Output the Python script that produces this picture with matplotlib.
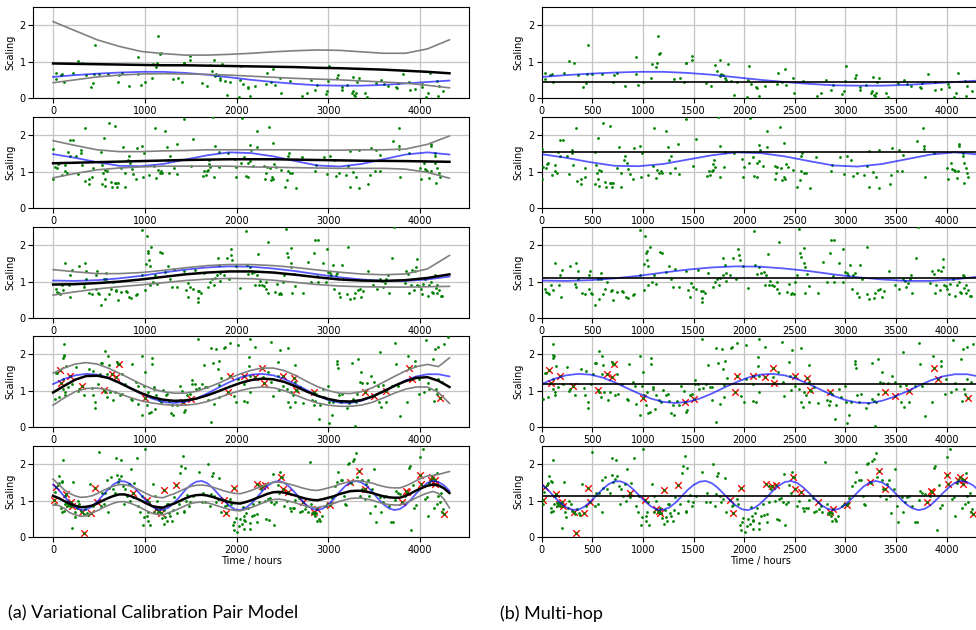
import numpy as np
import matplotlib.pyplot as plt

# sample positions (hours) for the smooth curves
t_slow = np.arange(0, 4321, 240)
t_mid = np.arange(0, 4321, 120)
t_fast = np.arange(0, 4321, 60)

# ---- panel 1 ----
p1_pts = [(33,0.68),(33,0.53),(83,0.62),(99,0.65),(115,0.45),(221,0.68),(267,1.02),(320,0.95),(356,0.64),(412,0.30),
          (439,0.42),(455,1.45),(445,0.65),(498,0.66),(597,0.65),(716,0.64),(706,0.43),(746,0.69),(822,0.32),(927,1.12),
          (927,0.66),(954,0.35),(1003,0.44),(1076,0.55),(1086,0.94),(1125,0.86),(1135,0.95),(1148,1.71),(1162,1.20),(1171,1.25),
          (1303,0.53),(1363,0.56),(1409,0.45),(1422,0.97),(1426,0.95),(1488,1.16),(1488,1.05),(1620,0.41),(1676,0.34),(1709,0.91),
          (1736,0.75),(1759,1.05),(1762,0.61),(1772,0.67),(1795,0.64),(1815,0.56),(1821,0.49),(1838,0.94),(1874,0.48),(1900,0.07),
          (1930,0.44),(2023,0.03),(2039,0.49),(2052,0.88),(2072,0.38),(2119,0.29),(2128,0.27),(2151,0.05),(2201,0.32),(2320,0.38),
          (2336,0.69),(2373,0.43),(2399,0.79),(2415,0.36),(2478,0.56),(2488,0.14),(2577,0.47),(2716,0.05),(2762,0.15),(2808,0.50),
          (2854,0.22),(2877,0.36),(2970,0.11),(2990,0.18),(2996,0.47),(3006,0.89),(3099,0.55),(3109,0.62),(3145,0.22),(3148,0.29),
          (3198,0.36),(3257,0.13),(3264,0.20),(3270,0.57),(3280,0.09),(3290,0.05),(3297,0.13),(3310,0.45),(3330,0.55),(3402,0.15),
          (3425,0.04),(3515,0.41),(3577,0.50),(3610,0.39),(3650,0.33),(3739,0.30),(3749,0.28),(3758,0.40),(3811,0.67),(3884,0.45),
          (3887,0.22),(3943,0.24),(4016,0.38),(4026,0.30),(4069,0.03),(4089,0.15),(4108,0.69),(4184,0.47),(4194,0.05),(4204,0.34),
          (4254,0.20)]
p1_true = [0.58,0.63,0.67,0.70,0.72,0.72,0.69,0.64,0.57,0.50,0.44,0.39,0.35,0.34,0.34,0.36,0.40,0.44,0.48]
p1_mean = [0.95,0.94,0.93,0.92,0.91,0.90,0.90,0.89,0.88,0.87,0.86,0.85,0.83,0.82,0.80,0.78,0.75,0.72,0.68]
p1_upper = [2.10,1.85,1.60,1.42,1.28,1.22,1.18,1.18,1.20,1.23,1.27,1.30,1.32,1.31,1.27,1.23,1.23,1.35,1.60]
p1_lower = [0.42,0.50,0.58,0.63,0.66,0.67,0.66,0.65,0.63,0.60,0.57,0.54,0.52,0.50,0.47,0.44,0.41,0.35,0.28]
p1_const = 0.45

# ---- panel 2 ----
p2_pts = [(3,1.62),(3,0.81),(16,1.13),(43,1.10),(56,1.22),(63,1.24),(99,0.90),(132,1.19),(135,1.03),(155,0.96),
          (165,1.55),(185,1.88),(185,1.42),(214,1.86),(251,1.44),(267,0.93),(300,1.50),(304,1.60),(314,1.19),(343,2.20),
          (350,0.75),(386,0.79),(389,0.65),(426,0.85),(432,1.11),(525,1.53),(528,0.67),(538,1.18),(545,0.96),(558,1.92),
          (561,0.81),(568,1.05),(571,0.60),(584,1.03),(610,2.34),(630,0.72),(640,0.59),(673,2.26),(670,0.69),(686,0.70),
          (696,0.58),(706,0.68),(742,1.10),(762,1.69),(782,0.97),(785,0.59),(815,1.33),(825,1.44),(838,1.23),(855,1.08),
          (871,0.94),(901,0.81),(914,1.66),(967,1.71),(977,0.85),(993,1.51),(1049,0.90),(1096,1.15),(1109,2.20),(1125,0.82),
          (1142,1.05),(1162,0.97),(1175,1.01),(1185,0.96),(1224,2.11),(1244,1.68),(1257,1.32),(1264,0.95),(1274,1.44),(1317,1.11),
          (1346,1.77),(1353,0.94),(1429,2.45),(1498,1.15),(1528,1.90),(1630,0.89),(1650,1.01),(1666,0.90),(1680,1.01),(1690,1.04),
          (1696,1.21),(1699,1.33),(1709,1.13),(1746,2.49),(1759,0.85),(1765,1.70),(1805,1.14),(1812,1.53),(1901,1.50),(1983,1.35),
          (1993,0.85),(1996,1.14),(2043,1.23),(2056,2.48),(2086,1.41),(2099,0.88),(2122,0.86),(2128,1.24),(2142,1.29),(2151,1.72),
          (2155,1.60),(2181,1.15),(2221,2.13),(2227,1.68),(2300,1.15),(2307,0.81),(2317,0.97),(2327,1.14),(2350,2.22),(2360,1.10),
          (2370,0.77),(2389,0.85),(2393,1.79),(2399,0.79),(2409,1.20),(2429,1.12),(2485,1.05),(2525,0.59),(2551,0.77),(2558,1.01),
          (2564,1.42),(2574,1.51),(2587,0.95),(2607,0.97),(2650,0.54),(2709,1.41),(2854,1.03),(2867,1.17),(2950,1.41),(2990,0.94),
          (3019,1.44),(3059,1.32),(3079,0.89),(3112,0.95),(3188,0.90),(3211,1.15),(3231,0.58),(3237,1.56),(3270,0.99),(3300,0.85),
          (3330,0.55),(3330,1.59),(3435,0.67),(3449,0.90),(3462,1.66),(3508,1.01),(3524,1.59),(3561,1.01),(3567,1.46),(3706,1.84),
          (3765,2.21),(3772,1.71),(3781,0.85),(3772,1.62),(3877,1.50),(4003,1.10),(4009,0.79),(4042,1.23),(4055,1.08),(4069,1.04),
          (4079,1.01),(4102,0.83),(4115,1.01),(4118,1.76),(4118,1.71),(4161,1.44),(4168,1.24),(4174,0.70),(4188,1.10),(4204,0.95),
          (4214,0.86),(4161,1.51)]
p2_true = [1.48,1.38,1.26,1.16,1.15,1.21,1.33,1.45,1.53,1.51,1.42,1.29,1.17,1.14,1.21,1.34,1.47,1.53,1.47]
p2_mean = [1.23,1.245,1.26,1.275,1.29,1.305,1.32,1.33,1.34,1.34,1.34,1.33,1.32,1.31,1.30,1.295,1.29,1.28,1.27]
p2_upper = [1.85,1.72,1.60,1.55,1.55,1.57,1.58,1.60,1.60,1.60,1.60,1.60,1.59,1.59,1.60,1.60,1.62,1.75,1.98]
p2_lower = [0.83,0.95,1.05,1.10,1.13,1.15,1.15,1.15,1.15,1.13,1.12,1.11,1.10,1.09,1.09,1.09,1.07,0.98,0.82]
p2_const = 1.55

# ---- panel 3 ----
p3_pts = [(36,0.81),(43,0.72),(59,0.68),(76,0.65),(96,0.92),(109,0.77),(135,1.50),(185,1.19),(188,0.58),(205,1.31),
          (284,1.44),(333,0.94),(337,0.85),(343,1.50),(356,1.08),(363,1.28),(396,0.70),(429,0.65),(465,0.79),(472,1.19),
          (475,1.29),(485,0.69),(501,0.66),(525,0.36),(558,1.06),(568,0.51),(581,1.23),(581,1.06),(604,0.65),(630,0.79),
          (650,0.99),(683,0.74),(690,0.77),(706,0.49),(742,0.72),(795,0.74),(808,0.72),(828,0.58),(848,0.56),(901,0.63),
          (914,0.67),(967,1.17),(974,2.43),(1007,0.77),(1013,1.49),(1023,2.26),(1033,1.80),(1036,1.85),(1043,1.60),(1053,1.44),
          (1066,1.95),(1053,0.92),(1086,0.99),(1106,1.19),(1132,0.94),(1165,1.82),(1191,1.78),(1224,1.26),(1257,1.44),(1277,1.06),
          (1297,0.86),(1317,1.35),(1353,0.86),(1429,1.30),(1449,0.77),(1465,0.59),(1475,0.97),(1495,0.85),(1528,0.81),(1548,1.32),
          (1577,0.74),(1581,0.45),(1584,0.56),(1594,0.75),(1614,0.69),(1647,1.24),(1690,0.85),(1713,0.99),(1732,1.06),(1749,0.90),
          (1762,1.10),(1789,1.17),(1792,1.65),(1808,1.46),(1818,1.01),(1822,1.24),(1861,1.17),(1894,1.64),(1917,1.06),(1934,1.91),
          (1944,1.73),(1954,1.60),(1990,1.44),(2033,0.83),(2099,2.38),(2109,1.46),(2125,1.22),(2145,1.39),(2168,1.24),(2191,1.26),
          (2204,0.92),(2217,1.17),(2234,1.75),(2240,0.90),(2257,1.02),(2276,0.90),(2296,0.88),(2319,0.99),(2323,0.81),(2346,2.09),
          (2339,0.70),(2422,0.72),(2442,0.94),(2462,0.65),(2475,0.69),(2488,0.65),(2502,0.99),(2518,1.19),(2541,2.45),(2551,1.80),
          (2558,1.68),(2594,1.93),(2591,1.51),(2597,1.40),(2604,0.68),(2624,1.22),(2640,0.88),(2729,0.68),(2782,1.55),(2815,0.99),
          (2848,1.80),(2858,2.14),(2881,1.15),(2888,0.99),(2891,2.14),(2937,1.50),(2973,0.99),(2980,1.89),(2999,1.26),(3013,1.24),
          (3029,1.17),(3046,1.46),(3066,0.79),(3079,1.17),(3092,1.24),(3112,0.68),(3129,0.59),(3145,1.46),(3165,1.08),(3214,1.95),
          (3208,0.66),(3237,0.52),(3277,0.56),(3293,0.70),(3320,0.77),(3343,0.81),(3359,0.59),(3376,0.74),(3429,1.30),(3485,0.90),
          (3528,0.79),(3567,1.06),(3587,1.01),(3600,0.86),(3620,0.97),(3633,1.08),(3646,1.17),(3659,0.70),(3699,1.64),(3715,2.50),
          (3838,0.97),(3851,1.30),(3871,1.20),(3884,0.69),(3897,0.90),(3914,1.31),(3930,0.77),(3943,1.28),(3960,1.40),(3966,1.62),
          (3970,0.90),(3989,0.88),(4006,0.81),(4022,0.65),(4036,0.94),(4059,1.08),(4085,0.61),(4102,0.90),(4122,0.99),(4135,0.72),
          (4145,0.68),(4158,1.17),(4174,0.83),(4188,0.68),(4211,0.77),(4227,0.61),(4240,0.61),(4168,1.15),(4188,0.90),(172,0.91)]
p3_true = [1.03,1.02,1.04,1.09,1.16,1.25,1.33,1.39,1.42,1.41,1.36,1.29,1.20,1.12,1.06,1.02,1.02,1.06,1.14]
p3_mean = [0.92,0.93,0.96,1.00,1.06,1.13,1.20,1.25,1.28,1.28,1.25,1.19,1.12,1.06,1.03,1.02,1.04,1.10,1.20]
p3_upper = [1.33,1.27,1.22,1.22,1.25,1.31,1.38,1.44,1.47,1.47,1.44,1.39,1.32,1.26,1.21,1.19,1.21,1.35,1.72]
p3_lower = [0.63,0.72,0.80,0.86,0.91,0.97,1.03,1.07,1.09,1.08,1.04,0.98,0.92,0.88,0.86,0.85,0.85,0.86,0.87]
p3_const = 1.11

# ---- panel 4 ----
p4_pts = [(17,0.78),(30,1.49),(43,1.49),(59,0.82),(109,1.32),(115,2.29),(115,1.99),(112,1.90),(119,1.94),(109,1.05),
          (129,0.96),(135,0.87),(142,1.67),(158,1.10),(208,1.19),(247,1.64),(274,0.99),(281,1.05),(333,0.89),(393,1.59),
          (422,1.07),(432,0.89),(439,1.54),(455,0.69),(462,0.51),(488,1.19),(511,1.45),(525,1.76),(538,1.77),(568,2.09),
          (571,0.96),(584,0.82),(591,1.46),(597,1.95),(610,1.70),(617,0.96),(657,0.74),(670,0.96),(693,1.79),(703,1.72),
          (726,0.87),(746,1.47),(752,0.92),(789,1.19),(845,0.77),(855,0.74),(865,1.73),(901,1.25),(921,1.14),(927,0.62),
          (967,0.33),(974,1.95),(987,1.14),(997,1.50),(1013,0.87),(1026,0.60),(1036,0.96),(1046,0.38),(1066,0.42),(1076,1.89),
          (1079,1.72),(1096,1.09),(1099,1.04),(1115,0.50),(1125,0.89),(1155,0.74),(1181,0.69),(1198,1.01),(1231,0.87),(1244,0.92),
          (1261,0.71),(1280,0.39),(1297,0.60),(1310,0.34),(1340,0.72),(1353,0.60),(1379,1.14),(1406,0.98),(1429,0.42),(1435,0.46),
          (1462,0.87),(1488,0.91),(1511,1.28),(1518,1.19),(1548,1.19),(1557,1.05),(1584,2.42),(1591,1.07),(1627,1.19),(1643,1.70),
          (1660,1.10),(1680,1.10),(1686,0.74),(1719,0.15),(1726,2.18),(1742,1.75),(1759,0.62),(1779,2.15),(1792,1.59),(1805,0.83),
          (1805,1.16),(1812,1.82),(1835,1.34),(1865,2.18),(1878,2.21),(1924,2.32),(1967,0.85),(1997,0.69),(2020,2.26),(2017,1.32),
          (2145,2.43),(2138,1.93),(2204,2.21),(2135,1.67),(2086,1.17),(2086,0.72),(2112,0.68),(2145,0.96),(2151,1.41),(2289,1.37),
          (2338,1.52),(2371,2.33),(2380,1.25),(2394,0.86),(2446,1.79),(2469,2.12),(2452,1.41),(2462,1.01),(2505,1.13),(2544,1.04),
          (2564,2.16),(2560,0.68),(2577,0.56),(2593,0.96),(2610,0.87),(2636,1.70),(2642,1.25),(2662,1.00),(2642,0.69),(2691,1.10),
          (2724,0.65),(2822,0.74),(2852,0.71),(2865,0.92),(2839,0.60),(2898,0.23),(2911,0.60),(2937,1.04),(2957,0.83),(2993,1.14),
          (3012,0.11),(3002,0.69),(3035,0.33),(3052,0.69),(3094,1.82),(3094,1.72),(3101,1.63),(3111,0.89),(3134,0.69),(3153,0.92),
          (3199,0.53),(3225,0.67),(3258,1.76),(3264,0.78),(3284,0.72),(3291,0.02),(3317,0.92),(3323,1.86),(3304,0.68),(3340,1.23),
          (3356,1.50),(3369,1.22),(3418,1.20),(3461,1.39),(3494,1.23),(3543,1.14),(3552,0.68),(3566,2.05),(3579,0.56),(3598,1.16),
          (3624,0.68),(3690,1.14),(3723,2.32),(3739,1.72),(3755,1.14),(3782,0.29),(3854,0.68),(3867,1.95),(3946,1.82),(3946,1.67),
          (3985,0.92),(3991,1.32),(4044,0.96),(4060,2.40),(4083,1.22),(4093,1.04),(4142,1.86),(4148,0.71),(4165,2.14),(4175,1.04),
          (4181,0.92),(4197,2.19),(4197,1.31),(4237,1.23),(4263,2.27),(4300,2.48)]
p4_red = [(76,1.58),(89,1.22),(185,1.41),(310,1.13),(558,1.02),(643,1.46),(690,1.38),(716,1.72),(1003,0.80),(1419,0.68),
          (1501,0.78),(1911,0.96),(1924,1.40),(2082,1.41),(2204,1.38),(2282,1.61),(2299,1.22),(2502,1.40),(2623,1.36),(2652,1.01),
          (2849,0.95),(3395,0.96),(3494,0.84),(3631,0.98),(3877,1.61),(3913,1.32),(4214,0.80)]
p4_true = [1.18,1.32,1.42,1.46,1.44,1.36,1.23,1.07,0.92,0.78,0.69,0.66,0.69,0.78,0.92,1.08,1.23,1.36,1.44,1.46,
           1.42,1.32,1.18,1.02,0.86,0.74,0.67,0.66,0.72,0.83,0.97,1.13,1.28,1.39,1.45,1.45,1.39]
p4_mean = [0.95,1.13,1.30,1.40,1.41,1.35,1.22,1.07,0.93,0.82,0.75,0.72,0.73,0.78,0.87,0.98,1.10,1.21,1.29,1.33,
           1.31,1.24,1.12,0.98,0.86,0.77,0.71,0.70,0.74,0.84,0.98,1.13,1.26,1.35,1.37,1.27,1.10]
p4_upper = [1.48,1.62,1.73,1.77,1.73,1.62,1.48,1.33,1.18,1.05,0.97,0.93,0.93,0.98,1.08,1.20,1.34,1.46,1.56,1.62,
            1.62,1.55,1.42,1.26,1.11,1.00,0.93,0.92,0.97,1.08,1.23,1.39,1.54,1.66,1.72,1.66,1.90]
p4_lower = [0.60,0.80,0.97,1.06,1.07,1.02,0.92,0.81,0.72,0.66,0.62,0.60,0.60,0.63,0.70,0.80,0.91,1.00,1.07,1.10,
            1.08,1.00,0.88,0.76,0.66,0.60,0.57,0.57,0.60,0.68,0.80,0.93,1.04,1.10,1.10,0.95,0.65]
p4_const = 1.17

# ---- panel 5 ----
p5_pts = [(17,0.90),(26,1.25),(50,1.42),(63,1.49),(69,1.69),(96,1.54),(102,1.51),(109,2.11),(96,0.68),(89,0.81),
          (115,0.72),(125,0.90),(135,1.13),(149,0.86),(155,0.93),(162,0.97),(168,0.88),(185,0.84),(191,0.93),(205,0.24),
          (221,1.51),(234,0.70),(241,0.54),(257,0.81),(274,0.99),(287,0.90),(300,0.72),(333,0.64),(353,0.77),(366,0.66),
          (383,0.61),(399,1.46),(439,0.86),(498,2.33),(525,0.86),(538,1.22),(554,0.90),(571,1.20),(591,1.58),(597,0.70),
          (610,1.35),(630,1.66),(650,1.31),(670,1.22),(690,2.17),(696,1.71),(709,1.51),(723,1.60),(736,2.13),(742,1.69),
          (762,1.40),(772,0.90),(782,1.31),(802,1.13),(822,1.45),(835,1.00),(845,1.87),(868,1.09),(884,1.49),(911,2.16),
          (927,0.86),(947,0.68),(964,1.13),(977,0.33),(993,0.54),(1000,2.43),(1026,0.59),(1033,0.45),(1039,0.68),(1049,0.95),
          (1059,0.34),(1092,1.45),(1105,0.68),(1112,1.13),(1132,1.00),(1145,0.68),(1165,0.79),(1181,0.66),(1191,0.52),(1204,0.36),
          (1214,0.73),(1224,0.54),(1237,0.44),(1244,0.90),(1257,0.90),(1264,0.66),(1277,0.57),(1297,0.44),(1310,0.75),(1320,1.09),
          (1350,0.65),(1369,0.91),(1383,1.76),(1396,1.95),(1412,2.24),(1429,0.68),(1429,0.72),(1435,1.90),(1445,1.00),(1462,1.15),
          (1485,0.86),(1495,0.95),(1528,1.13),(1587,1.78),(1627,0.95),(1633,1.20),(1660,0.95),(1693,2.01),(1709,0.86),(1719,1.18),
          (1732,1.67),(1742,1.75),(1759,1.13),(1772,0.95),(1792,1.04),(1812,1.62),(1825,0.68),(1878,0.86),(1894,0.88),(1924,1.04),
          (1940,0.92),(1960,0.32),(1967,0.18),(1977,0.41),(1990,0.52),(2006,0.14),(2023,0.30),(2039,0.50),(2056,0.36),(2072,0.83),
          (2082,0.23),(2089,0.44),(2079,0.57),(2086,0.48),(2105,0.66),(2125,0.81),(2145,0.39),(2151,0.21),(2168,0.59),(2184,0.90),
          (2191,0.61),(2223,0.63),(2227,0.41),(2243,0.95),(2249,1.40),(2266,1.31),(2308,1.00),(2321,0.50),(2341,1.04),(2348,0.48),
          (2361,1.06),(2380,0.95),(2397,1.73),(2407,0.32),(2413,0.90),(2430,0.95),(2446,1.42),(2466,1.22),(2472,1.78),(2492,1.66),
          (2518,0.84),(2544,1.00),(2583,0.81),(2593,0.72),(2610,0.79),(2626,0.81),(2642,1.02),(2675,1.06),(2688,0.70),(2708,0.72),
          (2741,0.77),(2760,0.86),(2773,0.68),(2800,2.05),(2813,0.90),(2826,0.66),(2839,0.63),(2855,0.59),(2865,0.66),(2872,0.45),
          (2898,0.50),(2911,0.44),(2930,0.57),(2970,0.86),(2990,0.90),(3029,0.93),(3035,1.06),(3068,1.40),(3094,1.51),(3107,1.78),
          (3134,1.58),(3150,1.57),(3173,1.13),(3183,0.90),(3192,0.88),(3215,2.02),(3225,2.04),(3251,1.49),(3264,2.08),(3281,2.14),
          (3297,2.31),(3314,1.66),(3346,1.13),(3362,1.57),(3372,1.31),(3402,1.04),(3412,1.45),(3428,1.58),(3444,1.13),(3454,0.66),
          (3480,1.31),(3494,1.86),(3510,0.86),(3520,0.41),(3559,1.11),(3572,0.68),(3592,0.95),(3612,1.11),(3631,1.13),(3657,0.86),
          (3684,0.41),(3706,0.41),(3723,1.02),(3739,1.27),(3755,1.22),(3782,1.18),(3837,1.13),(3877,1.90),(3886,1.95),(3906,0.18),
          (3919,1.42),(3936,0.79),(3952,0.88),(3998,2.20),(4031,2.43),(4050,1.04),(4070,1.09),(4083,0.59),(4099,1.48),(4148,1.60),
          (4155,0.81),(4181,0.90),(4187,1.75),(4197,1.13),(4214,0.95),(4227,1.20),(4240,0.68),(4253,0.77)]
p5_red = [(10,1.02),(36,1.38),(142,1.19),(175,0.92),(198,0.97),(208,0.86),(320,0.68),(340,0.11),(416,0.65),(459,1.36),
          (478,0.97),(868,1.20),(1020,1.02),(1125,0.77),(1158,0.72),(1172,0.65),(1211,1.29),(1343,1.43),(1863,1.02),(1888,0.66),
          (1971,1.36),(2217,1.45),(2276,1.40),(2315,1.42),(2479,1.64),(2505,1.31),(2560,1.24),(2724,0.95),(2845,0.68),(2878,0.77),
          (3016,0.88),(3238,1.51),(3333,1.82),(3395,1.33),(3805,0.95),(3847,1.27),(3854,1.24),(4004,1.71),(4011,1.45),(4116,1.58),
          (4132,1.64),(4161,1.45),(4168,1.57),(4263,0.63)]
p5_true = [1.44,1.30,1.12,0.95,0.82,0.75,0.75,0.83,0.97,1.14,1.31,1.45,1.53,1.53,1.46,1.32,1.15,0.98,0.84,0.75,
           0.75,0.81,0.94,1.11,1.29,1.43,1.52,1.54,1.48,1.35,1.18,1.01,0.86,0.76,0.74,0.80,0.92,1.08,1.26,1.41,
           1.51,1.54,1.49,1.37,1.21,1.04,0.88,0.78,0.74,0.78,0.89,1.05,1.23,1.39,1.50,1.54,1.50,1.40,1.24,1.06,
           0.90,0.79,0.74,0.77,0.87,1.03,1.20,1.36,1.49,1.54,1.51,1.42,1.27]
p5_mean = [1.13,1.07,0.99,0.92,0.86,0.82,0.83,0.86,0.92,1.00,1.07,1.13,1.17,1.17,1.13,1.07,1.00,0.92,0.85,0.82,
           0.81,0.87,0.92,0.99,1.06,1.12,1.15,1.16,1.14,1.10,1.05,1.00,0.96,0.93,0.92,0.96,1.01,1.07,1.13,1.19,
           1.23,1.24,1.22,1.18,1.14,1.09,1.05,1.02,1.01,1.04,1.08,1.12,1.18,1.22,1.26,1.27,1.27,1.24,1.21,1.16,
           1.12,1.09,1.08,1.08,1.13,1.20,1.28,1.35,1.41,1.44,1.42,1.34,1.21]
p5_upper = [1.59,1.45,1.30,1.20,1.13,1.09,1.10,1.13,1.19,1.27,1.34,1.40,1.44,1.44,1.40,1.34,1.27,1.19,1.12,1.09,
            1.08,1.14,1.19,1.26,1.33,1.39,1.42,1.43,1.41,1.37,1.32,1.27,1.23,1.20,1.19,1.23,1.28,1.34,1.40,1.46,
            1.50,1.51,1.49,1.45,1.41,1.36,1.32,1.29,1.28,1.31,1.35,1.39,1.45,1.49,1.53,1.54,1.54,1.51,1.48,1.43,
            1.39,1.36,1.35,1.35,1.40,1.47,1.55,1.62,1.68,1.69,1.72,1.76,1.80]
p5_lower = [0.88,0.87,0.79,0.67,0.61,0.57,0.58,0.66,0.72,0.80,0.87,0.93,0.97,0.97,0.93,0.87,0.80,0.72,0.65,0.62,
            0.61,0.67,0.72,0.79,0.86,0.92,0.95,0.96,0.94,0.90,0.85,0.80,0.76,0.73,0.72,0.76,0.81,0.87,0.93,0.99,
            1.03,1.04,1.02,0.98,0.94,0.89,0.85,0.82,0.81,0.84,0.88,0.92,0.98,1.02,1.06,1.07,1.07,1.04,1.01,0.96,
            0.92,0.89,0.88,0.88,0.93,1.00,1.08,1.15,1.21,1.25,1.20,1.04,0.80]
p5_const = 1.13

panels = [
    (p1_pts, [], t_slow, p1_true, p1_mean, p1_upper, p1_lower, p1_const),
    (p2_pts, [], t_slow, p2_true, p2_mean, p2_upper, p2_lower, p2_const),
    (p3_pts, [], t_slow, p3_true, p3_mean, p3_upper, p3_lower, p3_const),
    (p4_pts, p4_red, t_mid, p4_true, p4_mean, p4_upper, p4_lower, p4_const),
    (p5_pts, p5_red, t_fast, p5_true, p5_mean, p5_upper, p5_lower, p5_const),
]

fig = plt.figure(figsize=(9.76, 6.3), dpi=100)
bottoms = [0.8444, 0.6698, 0.4952, 0.3222, 0.1476]
h = 0.1444

for i, (pts, red, t, true, mean, upper, lower, const) in enumerate(panels):
    pts = np.array(pts, dtype=float)
    red = np.array(red, dtype=float).reshape(-1, 2)
    axl = fig.add_axes([0.0341, bottoms[i], 0.4467, h])
    axr = fig.add_axes([0.5550, bottoms[i], 0.4482, h])
    for ax, left in [(axl, True), (axr, False)]:
        ax.grid(True, color='#c4c4c4', linewidth=0.9)
        ax.set_axisbelow(True)
        if len(red):
            ax.scatter(red[:, 0], red[:, 1], marker='x', color='red', s=22, linewidths=1.0, zorder=2)
        allx = np.concatenate([pts[:, 0], red[:, 0]])
        ally = np.concatenate([pts[:, 1], red[:, 1]])
        ax.scatter(allx, ally, color='green', s=4, zorder=3, linewidths=0)
        ax.plot(t, true, color='blue', alpha=0.65, lw=1.3, zorder=4)
        if left:
            ax.plot(t, upper, color='gray', lw=1.2, zorder=4)
            ax.plot(t, lower, color='gray', lw=1.2, zorder=4)
            ax.plot(t, mean, color='black', lw=1.8, zorder=5)
            ax.set_xlim(-216, 4536)
            ax.set_xticks([0, 1000, 2000, 3000, 4000])
        else:
            ax.axhline(const, color='black', lw=1.2, zorder=5)
            ax.set_xlim(0, 4320)
            ax.set_xticks(np.arange(0, 4001, 500))
        ax.set_ylim(0, 2.5)
        ax.set_yticks([0, 1, 2])
        ax.tick_params(labelsize=7, pad=2)
        ax.set_ylabel('Scaling', fontsize=7, labelpad=3)
        if i == 4:
            ax.set_xlabel('Time / hours', fontsize=7, labelpad=1)

fig.text(0.008, 0.018, '(a) Variational Calibration Pair Model', fontsize=13, family=['Lato', 'DejaVu Sans'])
fig.text(0.512, 0.018, '(b) Multi-hop', fontsize=13, family=['Lato', 'DejaVu Sans'])

fig.savefig('out.png', dpi=100)
